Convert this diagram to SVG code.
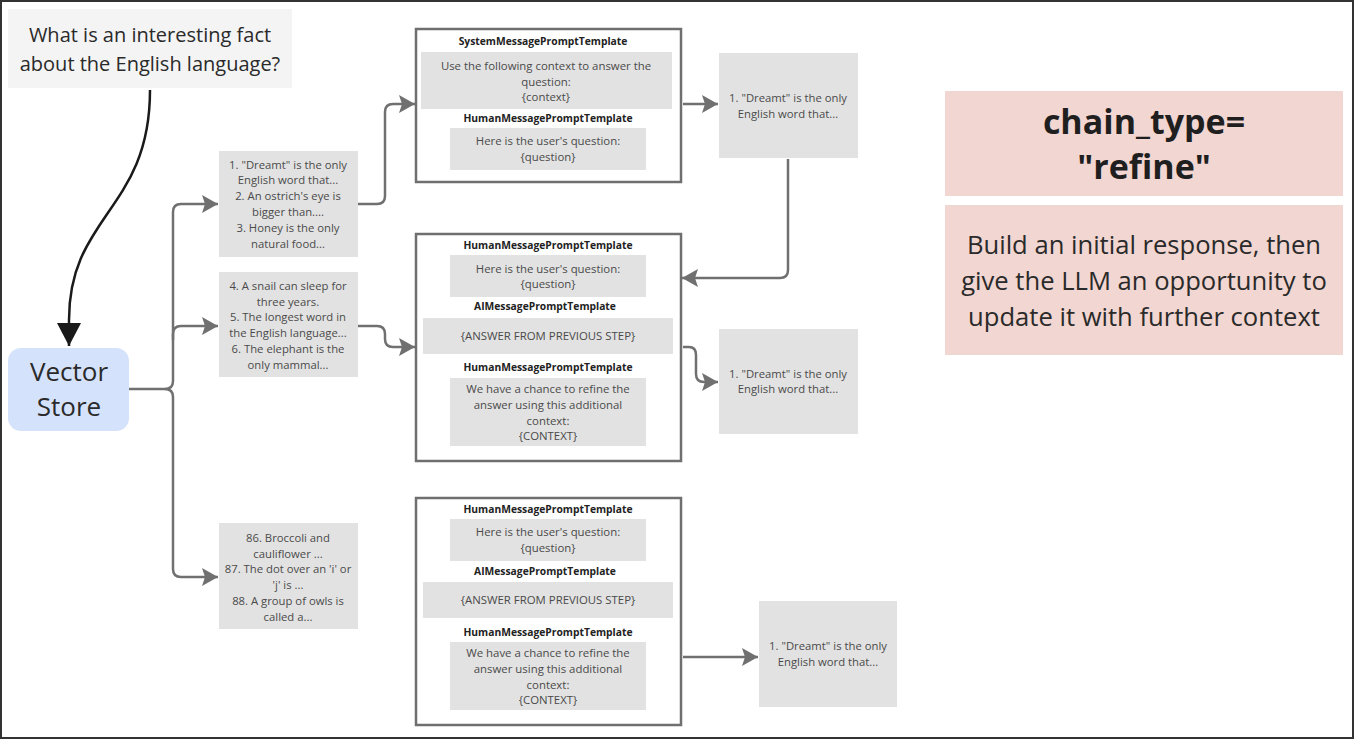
<svg xmlns="http://www.w3.org/2000/svg" width="1354" height="739" viewBox="0 0 1354 739">
<defs>
<marker id="ag" markerUnits="userSpaceOnUse" markerWidth="18" markerHeight="20" refX="16" refY="9" orient="auto"><path d="M0,0 L16,9 L0,18 L3,9 Z" fill="#707070"/></marker>
<marker id="ab" markerUnits="userSpaceOnUse" markerWidth="26" markerHeight="26" refX="23" refY="12" orient="auto"><path d="M0,0 L23,12 L0,24 Z" fill="#1a1a1a"/></marker>
<style>
text{font-family:"Open Sans","Liberation Sans",sans-serif;text-anchor:middle}
.fact{fill:#e2e2e2}
.ft{font-size:11.3px;fill:#4a4a4a}
.tpl{fill:#fff;stroke:#6f6f6f;stroke-width:2.5}
.lbl{font-size:10.3px;font-weight:bold;fill:#222}
.in{fill:#e2e2e2}
.it{font-size:11.4px;fill:#4a4a4a}
.pink{fill:#f2d6d1}
.con{fill:none;stroke:#707070;stroke-width:2.5}
</style>
</defs>
<rect x="0" y="0" width="1354" height="739" fill="#fff"/>
<rect x="1" y="1" width="1352" height="737" fill="none" stroke="#333" stroke-width="2"/>

<g id="question">
<rect x="8" y="9" width="284" height="79" fill="#f4f4f4"/>
<text x="150" y="42" font-size="20" fill="#2a2a2a">What is an interesting fact</text>
<text x="150" y="71" font-size="20" fill="#2a2a2a">about the English language?</text>
</g>

<g id="vector-store">
<rect x="8" y="348" width="121" height="83" rx="13" fill="#d5e2fb"/>
<text x="69" y="381" font-size="26" fill="#2a2a2a">Vector</text>
<text x="69" y="416" font-size="26" fill="#2a2a2a">Store</text>
</g>

<g id="facts-1">
<rect class="fact" x="219" y="151" width="139" height="106"/>
<text class="ft" x="288" y="169">1. "Dreamt" is the only</text>
<text class="ft" x="288" y="184">English word that...</text>
<text class="ft" x="288" y="200">2. An ostrich's eye is</text>
<text class="ft" x="288" y="216">bigger than....</text>
<text class="ft" x="288" y="232">3. Honey is the only</text>
<text class="ft" x="288" y="248">natural food...</text>
</g>

<g id="facts-2">
<rect class="fact" x="219" y="272" width="139" height="105"/>
<text class="ft" x="288" y="290">4. A snail can sleep for</text>
<text class="ft" x="288" y="306">three years.</text>
<text class="ft" x="288" y="321">5. The longest word in</text>
<text class="ft" x="288" y="337">the English language...</text>
<text class="ft" x="288" y="353">6. The elephant is the</text>
<text class="ft" x="288" y="369">only mammal...</text>
</g>

<g id="facts-3">
<rect class="fact" x="219" y="523" width="139" height="106"/>
<text class="ft" x="288" y="542">86. Broccoli and</text>
<text class="ft" x="288" y="558">cauliflower ...</text>
<text class="ft" x="288" y="573">87. The dot over an 'i' or</text>
<text class="ft" x="288" y="589">'j' is ...</text>
<text class="ft" x="288" y="605">88. A group of owls is</text>
<text class="ft" x="288" y="621">called a...</text>
</g>

<g id="template-1">
<rect class="tpl" x="416" y="29" width="265" height="153"/>
<text class="lbl" x="543" y="45">SystemMessagePromptTemplate</text>
<rect class="in" x="421" y="52" width="251" height="57"/>
<text class="it" x="546" y="70">Use the following context to answer the</text>
<text class="it" x="546" y="86">question:</text>
<text class="it" x="546" y="101">{context}</text>
<text class="lbl" x="548" y="122">HumanMessagePromptTemplate</text>
<rect class="in" x="450" y="128" width="196" height="42"/>
<text class="it" x="548" y="145">Here is the user's question:</text>
<text class="it" x="548" y="161">{question}</text>
</g>

<g id="template-2">
<rect class="tpl" x="416" y="234" width="265" height="227"/>
<text class="lbl" x="548" y="249">HumanMessagePromptTemplate</text>
<rect class="in" x="450" y="255" width="196" height="42"/>
<text class="it" x="548" y="273">Here is the user's question:</text>
<text class="it" x="548" y="288">{question}</text>
<text class="lbl" x="545" y="310">AIMessagePromptTemplate</text>
<rect class="in" x="423" y="318" width="250" height="36"/>
<text class="it" x="548" y="340">{ANSWER FROM PREVIOUS STEP}</text>
<text class="lbl" x="548" y="371">HumanMessagePromptTemplate</text>
<rect class="in" x="450" y="378" width="196" height="68"/>
<text class="it" x="548" y="393">We have a chance to refine the</text>
<text class="it" x="548" y="409">answer using this additional</text>
<text class="it" x="548" y="425">context:</text>
<text class="it" x="548" y="440">{CONTEXT}</text>
</g>

<g id="template-3">
<rect class="tpl" x="416" y="498" width="265" height="227"/>
<text class="lbl" x="548" y="513">HumanMessagePromptTemplate</text>
<rect class="in" x="450" y="519" width="196" height="42"/>
<text class="it" x="548" y="536">Here is the user's question:</text>
<text class="it" x="548" y="552">{question}</text>
<text class="lbl" x="545" y="575">AIMessagePromptTemplate</text>
<rect class="in" x="423" y="582" width="250" height="36"/>
<text class="it" x="548" y="604">{ANSWER FROM PREVIOUS STEP}</text>
<text class="lbl" x="548" y="636">HumanMessagePromptTemplate</text>
<rect class="in" x="450" y="642" width="196" height="68"/>
<text class="it" x="548" y="657">We have a chance to refine the</text>
<text class="it" x="548" y="673">answer using this additional</text>
<text class="it" x="548" y="689">context:</text>
<text class="it" x="548" y="704">{CONTEXT}</text>
</g>

<g id="output-1">
<rect class="fact" x="719" y="53" width="139" height="105"/>
<text class="ft" x="788" y="102">1. "Dreamt" is the only</text>
<text class="ft" x="788" y="118">English word that...</text>
</g>

<g id="output-2">
<rect class="fact" x="719" y="329" width="139" height="105"/>
<text class="ft" x="788" y="378">1. "Dreamt" is the only</text>
<text class="ft" x="788" y="393">English word that...</text>
</g>

<g id="output-3">
<rect class="fact" x="759" y="601" width="138" height="106"/>
<text class="ft" x="828" y="650">1. "Dreamt" is the only</text>
<text class="ft" x="828" y="666">English word that...</text>
</g>

<g id="chain-type">
<rect class="pink" x="945" y="91" width="398" height="105"/>
<text x="1144" y="134" font-size="34" font-weight="bold" fill="#1f1f1f">chain_type=</text>
<text x="1144" y="179" font-size="34" font-weight="bold" fill="#1f1f1f">"refine"</text>
</g>

<g id="description">
<rect class="pink" x="945" y="205" width="398" height="150"/>
<text x="1144" y="254" font-size="25.6" fill="#2a2a2a">Build an initial response, then</text>
<text x="1144" y="290" font-size="25.6" fill="#2a2a2a">give the LLM an opportunity to</text>
<text x="1144" y="326" font-size="25.6" fill="#2a2a2a">update it with further context</text>
</g>

<g id="connectors">
<path d="M150,90 C150,210 69,215 69,320 L69,346" fill="none" stroke="#1a1a1a" stroke-width="2.5" marker-end="url(#ab)"/>
<path class="con" d="M129,389 H165 Q173,389 173,381 V212 Q173,204 181,204 H218" marker-end="url(#ag)"/>
<path class="con" d="M173,340 V334 Q173,326 181,326 H218" marker-end="url(#ag)"/>
<path class="con" d="M165,389 Q173,389 173,397 V569 Q173,577 181,577 H218" marker-end="url(#ag)"/>
<path class="con" d="M358,204 H377 Q385,204 385,196 V112 Q385,104 393,104 H415" marker-end="url(#ag)"/>
<path class="con" d="M358,326 H377 Q385,326 385,334 V339 Q385,347 393,347 H415" marker-end="url(#ag)"/>
<path class="con" d="M683,104 H718" marker-end="url(#ag)"/>
<path class="con" d="M788,159 V270 Q788,278 780,278 H682" marker-end="url(#ag)"/>
<path class="con" d="M683,347 H689 Q696,347 696,355 V374 Q696,382 704,382 H718" marker-end="url(#ag)"/>
<path class="con" d="M683,657 H758" marker-end="url(#ag)"/>
</g>
</svg>
